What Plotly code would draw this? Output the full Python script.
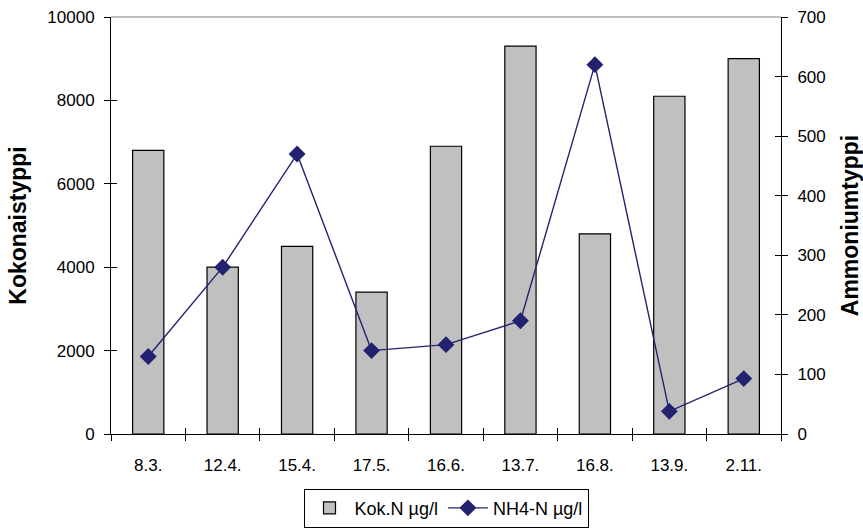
import plotly.graph_objects as go

categories = ["8.3.", "12.4.", "15.4.", "17.5.", "16.6.", "13.7.", "16.8.", "13.9.", "2.11."]
kok_n = [6800, 4000, 4500, 3400, 6900, 9300, 4800, 8100, 9000]
nh4_n = [130, 280, 470, 140, 150, 190, 620, 38, 93]

left_ticks = [0, 2000, 4000, 6000, 8000, 10000]
left_labels = ["0", "2000", "4000", "6000", "8000", "10000"]
right_ticks = [0, 100, 200, 300, 400, 500, 600, 700]

NAVY = "#22226F"
FONT = "Liberation Sans, Arial, sans-serif"

fig = go.Figure()
fig.add_trace(go.Bar(
    x=categories, y=kok_n, name="Kok.N µg/l",
    marker=dict(color="#C0C0C0", line=dict(color="black", width=1.2)),
    width=0.42, yaxis="y",
))
fig.add_trace(go.Scatter(
    x=categories, y=nh4_n, name="NH4-N µg/l", mode="lines+markers",
    line=dict(color=NAVY, width=1.4),
    marker=dict(symbol="diamond", size=13, color=NAVY),
    yaxis="y2",
))
# invisible helper traces so the overlay axes (inside tick halves) render
fig.add_trace(go.Scatter(x=categories, y=[None] * len(categories), xaxis="x2", yaxis="y3",
                         showlegend=False, hoverinfo="skip"))
fig.add_trace(go.Scatter(x=categories, y=[None] * len(categories), xaxis="x", yaxis="y4",
                         showlegend=False, hoverinfo="skip"))

tickfont = dict(family=FONT, size=17, color="black")
titlefont = dict(family=FONT, size=23, color="black", weight="bold")

fig.update_layout(
    width=863, height=528,
    margin=dict(l=111, r=82, t=17, b=94, autoexpand=False),
    paper_bgcolor="white", plot_bgcolor="white",
    showlegend=True,
    legend=dict(orientation="h", x=0.5, xanchor="center", y=-0.131, yanchor="top",
                bordercolor="black", borderwidth=1, font=dict(family=FONT, size=18, color="black"),
                itemwidth=40, traceorder="normal"),
    xaxis=dict(type="category", categoryorder="array", categoryarray=categories,
               range=[-0.5, 8.5], showline=True, linecolor="black", linewidth=1,
               ticks="outside", ticklen=6, tickcolor="black", tickson="boundaries",
               tickfont=tickfont, ticklabelstandoff=16, showgrid=False, zeroline=False),
    xaxis2=dict(type="category", categoryorder="array", categoryarray=categories,
                range=[-0.5, 8.5], overlaying="x", anchor="y", side="bottom",
                showline=False, ticks="inside", ticklen=6, tickcolor="black",
                tickson="boundaries", showticklabels=False, showgrid=False, zeroline=False),
    yaxis=dict(range=[0, 10000], tickvals=left_ticks, ticktext=left_labels, showline=True,
               linecolor="black", linewidth=1, ticks="outside", ticklen=6, tickcolor="black",
               tickfont=tickfont, ticklabelstandoff=6, showgrid=False, zeroline=False,
               title=dict(text="Kokonaistyppi", font=titlefont, standoff=14)),
    yaxis2=dict(range=[0, 700], tickvals=right_ticks, overlaying="y", side="right",
                anchor="x", showline=True, linecolor="black", linewidth=1,
                ticks="outside", ticklen=6, tickcolor="black", tickfont=tickfont,
                ticklabelstandoff=6, showgrid=False, zeroline=False,
                title=dict(text="Ammoniumtyppi", font=titlefont, standoff=23)),
    yaxis3=dict(range=[0, 10000], tickvals=left_ticks, overlaying="y", side="left",
                anchor="x2", showline=False, ticks="inside", ticklen=6, tickcolor="black",
                showticklabels=False, showgrid=False, zeroline=False),
    yaxis4=dict(range=[0, 700], tickvals=right_ticks, overlaying="y", side="right",
                anchor="x", showline=False, ticks="inside", ticklen=6, tickcolor="black",
                showticklabels=False, showgrid=False, zeroline=False),
    shapes=[dict(type="line", xref="paper", yref="paper", x0=0, x1=1, y0=1, y1=1,
                 line=dict(color="#808080", width=1))],
)

fig.write_html("out.html")
